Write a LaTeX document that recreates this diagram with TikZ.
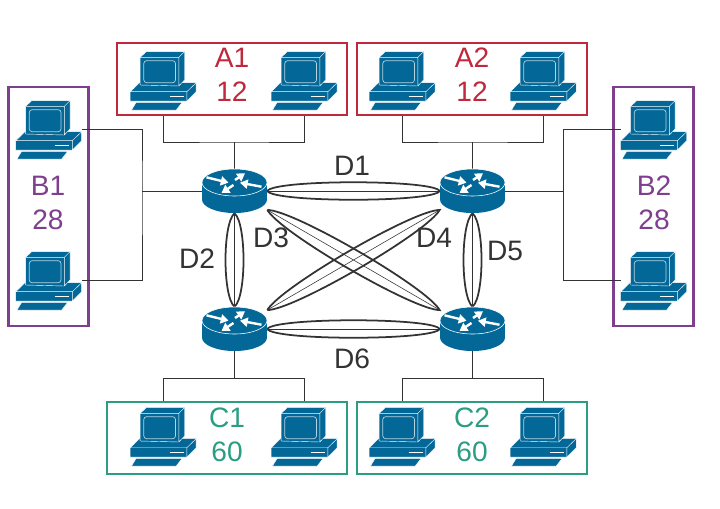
\documentclass[tikz,border=0pt]{standalone}
\usepackage{fontspec}
\setmainfont{Liberation Sans}
\usetikzlibrary{positioning, arrows.meta}

\definecolor{ciscoblue}{HTML}{036897}
\definecolor{grpred}{HTML}{C0283C}
\definecolor{grppurple}{HTML}{7F3F8E}
\definecolor{grpteal}{HTML}{2A9D83}
\definecolor{inkgray}{HTML}{333333}

\begin{document}
\begin{tikzpicture}[x=0.025cm,y=-0.025cm]
        % Define styles for shapes
        \tikzset{
            pcnode/.style={inner sep=0, minimum width=1.65cm, minimum height=1.475cm},
            routernode/.style={inner sep=0, minimum width=1.625cm, minimum height=1.1cm},
            grpbox/.style={draw=#1, fill=white, line width=1.5pt, inner sep=0},
            grplabel/.style={text=#1, align=center, inner sep=0, font=\fontsize{20}{24}\selectfont},
            linklabel/.style={text=inkgray, inner sep=0, font=\fontsize{20}{24}\selectfont},
            wire/.style={draw=inkgray, line width=0.6pt},
            lens/.style={draw=inkgray, line width=1.25pt},
            routerarrow/.style={white, line width=1.7pt, -{Triangle[width=6.5pt,length=5.5pt]}},
            computer/.pic={
                \draw[fill=ciscoblue, draw=white, line width=0.3pt, line join=round]
                    (-27.3,22.3) -- (18.7,22.3) -- (12.7,30) -- (-32,30) -- cycle
                    (-33.3,11.7) -- (-24,2.7) -- (32.7,2.7) -- (23.3,11.7) -- cycle
                    (-33.3,11.7) -- (23.3,11.7) -- (23.3,21) -- (-33.3,21) -- cycle
                    (23.3,11.7) -- (32.7,2.7) -- (32.7,11.7) -- (23.3,21) -- cycle;
                \draw[fill=ciscoblue, draw=white, line width=0.3pt, line join=round]
                    (-23.3,-22.7) -- (-17.3,-28.3) -- (21,-28.3) -- (15.3,-22.7) -- cycle
                    (15.3,-22.7) -- (21,-28.3) -- (21,0) -- (15.3,6) -- cycle
                    (-23.3,-22.7) -- (15.3,-22.7) -- (15.3,6) -- (-23.3,5) -- cycle;
                \draw[white!70!ciscoblue, line width=0.5pt, rounded corners=2pt]
                    (-19.7,-19.3) rectangle (12,2.7);
                \draw[white, line width=0.8pt] (6,16.7) -- (20,16.7);
            },
            router/.pic={
                \fill[ciscoblue] (0,8.5) ellipse [x radius=32.5, y radius=13.5];
                \fill[ciscoblue] (-32.5,-8.5) rectangle (32.5,8.5);
                \draw[fill=ciscoblue, draw=white, line width=0.4pt] (0,-8.5) ellipse [x radius=32.5, y radius=13.5];
                \draw[routerarrow] (-28,-13.7) -- (-6,-8.3);
                \draw[routerarrow] (0.5,-11) -- (10.5,-17.7);
                \draw[routerarrow] (-1,-6) -- (-13,2);
                \draw[routerarrow] (27,-4.3) -- (5.5,-8.3);
            }
        }
        \useasboundingbox (0,0) rectangle (720,508);

        % Place routers and computers
        \node[routernode] (r1) at (234.5,191) {};
        \node[routernode] (r2) at (472.5,191) {};
        \node[routernode] (r3) at (234.5,329) {};
        \node[routernode] (r4) at (472.5,329) {};
        \foreach \nm/\px/\py in {pca1/163.5/80, pca2/304.5/80, pcb1/402.5/80, pcb2/543.5/80,
                                 pcc1/163.5/436, pcc2/304.5/436, pcd1/402.5/436, pcd2/543.5/436,
                                 pce1/49/129, pce2/49/280, pcf1/654/129, pcf2/654/280}
            \node[pcnode] (\nm) at (\px,\py) {};
        \coordinate (busa) at (234.5,142);
        \coordinate (busb) at (472.5,142);
        \coordinate (busc) at (234.5,378);
        \coordinate (busd) at (472.5,378);
        \coordinate (buse) at (142,191);
        \coordinate (busf) at (563,191);

        % Draw wires to the top and bottom groups (the boxes hide their ends)
        \draw[wire] (pca1) |- (busa) -| (pca2);
        \draw[wire] (pcb1) |- (busb) -| (pcb2);
        \draw[wire] (pcc1) |- (busc) -| (pcc2);
        \draw[wire] (pcd1) |- (busd) -| (pcd2);
        \draw[wire] (r1) -- (busa);
        \draw[wire] (r2) -- (busb);
        \draw[wire] (r3) -- (busc);
        \draw[wire] (r4) -- (busd);

        % Draw group boxes
        \node[grpbox=grpred, minimum width=5.75cm, minimum height=1.8cm] (boxa) at (232,79) {};
        \node[grpbox=grpred, minimum width=5.75cm, minimum height=1.8cm] (boxb) at (472,79) {};
        \node[grpbox=grpteal, minimum width=6cm, minimum height=1.8cm] (boxc) at (227,438) {};
        \node[grpbox=grpteal, minimum width=5.75cm, minimum height=1.8cm] (boxd) at (472,438) {};
        \node[grpbox=grppurple, minimum width=2cm, minimum height=5.98cm] (boxe) at (48.5,206.5) {};
        \node[grpbox=grppurple, minimum width=2cm, minimum height=5.98cm] (boxf) at (653.5,206.5) {};

        % Draw wires to the side groups
        \draw[wire] (pce1.east) -| (buse) |- (pce2.east);
        \draw[wire] (pcf1.west) -| (busf) |- (pcf2.west);
        \draw[wire] (buse) -- (r1);
        \draw[wire] (busf) -- (r2);

        % Draw the links
        \foreach \ea/\eb/\ang/\loose in {r1.east/r2.west/60/.2, r3.east/r4.west/60/.2,
                                         r1.south/r3.north/50/.43, r2.south/r4.north/50/.43,
                                         r1.-30/r4.150/30/.34, r3.30/r2.210/30/.34} {
            \draw[wire, line width=0.4pt] (\ea) -- (\eb);
            \draw[lens] (\ea) to[relative, out=\ang, in=180-\ang, looseness=\loose] (\eb)
                              to[relative, out=\ang, in=180-\ang, looseness=\loose] (\ea);
        }

        % Draw icons
        \foreach \nm in {r1,r2,r3,r4}
            \pic at (\nm) {router};
        \foreach \nm in {pca1,pca2,pcb1,pcb2,pcc1,pcc2,pcd1,pcd2,pce1,pce2,pcf1,pcf2}
            \pic at (\nm) {computer};

        % Labels
        \node[grplabel=grpred] (txta) at (232,75) {A1\\12};
        \node[grplabel=grpred] (txtb) at (472,75) {A2\\12};
        \node[grplabel=grpteal] (txtc) at (227,434.5) {C1\\60};
        \node[grplabel=grpteal] (txtd) at (472,434.5) {C2\\60};
        \node[grplabel=grppurple] (txte) at (48,203) {B1\\28};
        \node[grplabel=grppurple] (txtf) at (654,203) {B2\\28};
        \node[linklabel] (d1) at (352,166) {D1};
        \node[linklabel] (d2) at (197,259) {D2};
        \node[linklabel] (d3) at (271,238) {D3};
        \node[linklabel] (d4) at (434,238) {D4};
        \node[linklabel] (d5) at (505,251) {D5};
        \node[linklabel] (d6) at (352,359) {D6};
    \end{tikzpicture}
\end{document}
